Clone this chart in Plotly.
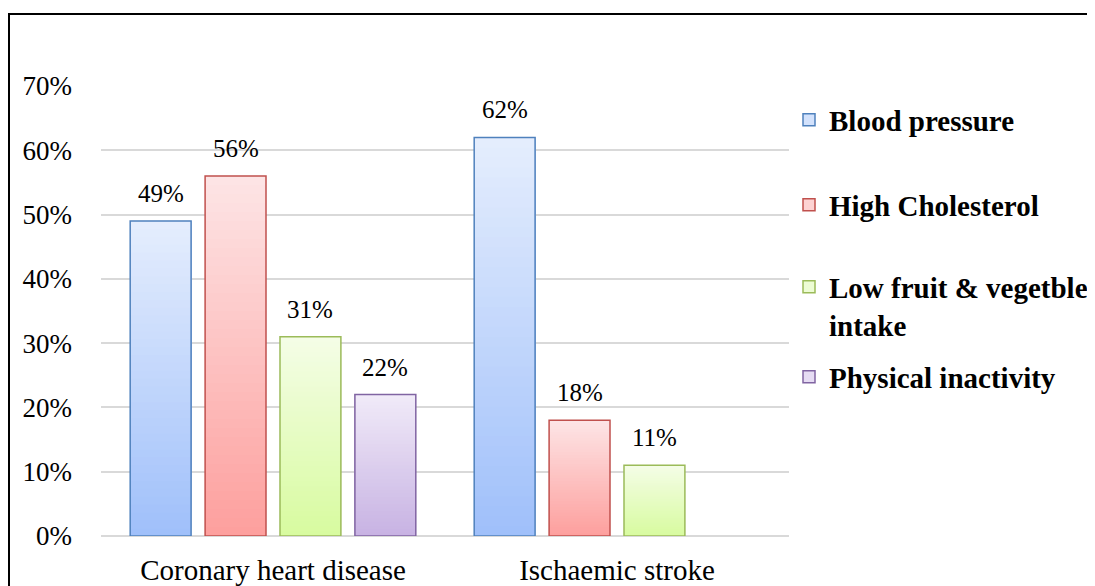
import plotly.graph_objects as go

categories = ["Coronary heart disease", "Ischaemic stroke"]
series_names = ["Blood pressure", "High Cholesterol", "Low fruit & vegetble<br>intake", "Physical inactivity"]
blood_pressure = [0.49, 0.62]
high_cholesterol = [0.56, 0.18]
low_fruit_veg = [0.31, 0.11]
physical_inactivity = [0.22, None]
y_ticks = [0, 0.1, 0.2, 0.3, 0.4, 0.5, 0.6, 0.7]

values = [blood_pressure, high_cholesterol, low_fruit_veg, physical_inactivity]
# (top colour, bottom colour, border colour)
styles = [
    ((228, 237, 253), (160, 192, 250), "#4f81bd"),
    ((253, 228, 229), (253, 160, 158), "#c0504d"),
    ((244, 253, 230), (216, 251, 160), "#9bbb59"),
    ((240, 234, 248), (200, 179, 227), "#8064a2"),
]
legend_ids = ["legend", "legend2", "legend3", "legend4"]

FONT = "Liberation Serif"
K = 40  # gradient steps

# page body has an 8px margin, so the figure starts at (8, 8) in the window
W, H = 1087, 578
ML, MR, MT, MB = 93, 306, 78, 50
BARGAP, BARGROUPGAP = 0.129, 0.187
plot_w = W - ML - MR
ph = H - MT - MB
slot_px = plot_w / len(categories) * (1 - BARGAP) / len(values)

fig = go.Figure()

def mix(c1, c2, t):
    return "rgb(%d,%d,%d)" % tuple(round(a + (b - a) * t) for a, b in zip(c1, c2))

annotations = []
for j, (name, vals, (top, bottom, border), lid) in enumerate(zip(series_names, values, styles, legend_ids)):
    og = "g%d" % j
    # gradient body, built from the data values (overlapping layers, bottom to top)
    for k in range(K):
        seg_base = [None if v is None else v * k / K for v in vals]
        seg_h = [None if v is None else v * (1 - k / K) for v in vals]
        t = k / (K - 1)
        fig.add_trace(go.Bar(
            x=categories, y=seg_h, base=seg_base, offsetgroup=og,
            marker=dict(color=mix(bottom, top, t), line=dict(width=0)),
            showlegend=False, hoverinfo="skip",
        ))
    # outline
    fig.add_trace(go.Bar(
        x=categories, y=vals, offsetgroup=og, name=name,
        marker=dict(color="rgba(0,0,0,0)", line=dict(color=border, width=1.5)),
        showlegend=False,
    ))
    # legend entry
    fig.add_trace(go.Bar(
        x=categories, y=[None, None], offsetgroup=og, name=name,
        marker=dict(color=mix(bottom, top, 0.75), line=dict(color=border, width=1.5)),
        showlegend=True, legend=lid,
    ))
    # value labels
    for c, v in zip(categories, vals):
        if v is None:
            continue
        annotations.append(dict(
            x=c, y=v, xref="x", yref="y", text=f"{round(v*100)}%",
            showarrow=False, yanchor="bottom", yshift=12,
            xshift=(j - (len(values) - 1) / 2) * slot_px,
            font=dict(family=FONT, size=25, color="black"),
        ))

legend_common = dict(
    font=dict(family=FONT, size=29, color="black", weight="bold"),
    bgcolor="rgba(0,0,0,0)", borderwidth=0, x=1.0, xanchor="left",
    yanchor="middle", valign="top", itemclick=False, itemdoubleclick=False,
)

def py(screen_y):
    return (H - MB - (screen_y - 8)) / ph

fig.update_layout(
    width=W, height=H,
    margin=dict(l=ML, r=MR, t=MT, b=MB, autoexpand=False),
    paper_bgcolor="white", plot_bgcolor="white",
    barmode="group", bargap=BARGAP, bargroupgap=BARGROUPGAP,
    font=dict(family=FONT, color="black"),
    legend=dict(legend_common, y=py(120)),
    legend2=dict(legend_common, y=py(205)),
    legend3=dict(legend_common, y=py(306)),
    legend4=dict(legend_common, y=py(377)),
    xaxis=dict(
        showgrid=False, showline=False, ticks="",
        tickfont=dict(family=FONT, size=29, color="black"),
        ticklabelstandoff=14,
    ),
    yaxis=dict(
        range=[0, 0.7], tickvals=y_ticks, tickformat=".0%",
        showgrid=True, gridcolor="#d9d9d9", gridwidth=1.5,
        zeroline=True, zerolinecolor="#d9d9d9", zerolinewidth=1.5,
        showline=False, ticks="",
        tickfont=dict(family=FONT, size=27, color="black"),
        ticklabelstandoff=28,
    ),
    annotations=annotations,
    shapes=[dict(
        type="rect", xref="paper", yref="paper",
        x0=(1 - ML) / plot_w, x1=(W + 10 - ML) / plot_w,
        y0=(H - MB - (H + 20)) / ph, y1=(H - MB - 6) / ph,
        line=dict(color="black", width=2), fillcolor="rgba(0,0,0,0)", layer="below",
    )],
)

fig.write_html("out.html")
